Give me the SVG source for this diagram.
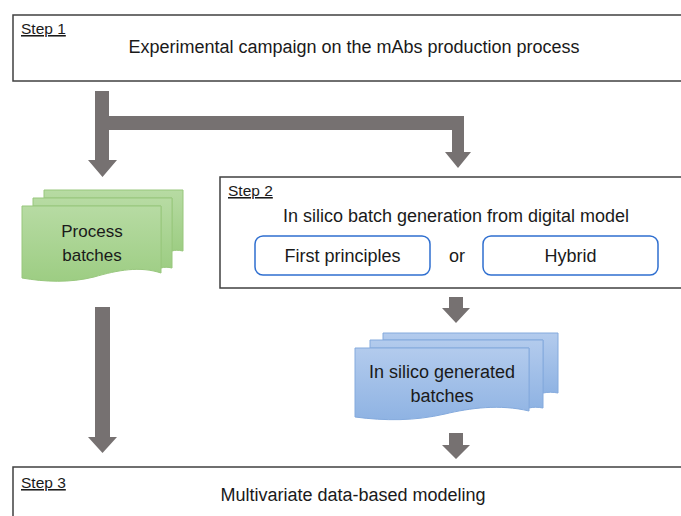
<svg xmlns="http://www.w3.org/2000/svg" width="681" height="516" viewBox="0 0 681 516">
<defs>
<linearGradient id="gGreen" x1="0" y1="0" x2="0" y2="1">
<stop offset="0" stop-color="#b7dba3"/>
<stop offset="1" stop-color="#9dcd83"/>
</linearGradient>
<linearGradient id="gBlue" x1="0" y1="0" x2="0" y2="1">
<stop offset="0" stop-color="#b3cbed"/>
<stop offset="1" stop-color="#8fb3e3"/>
</linearGradient>
<style>
.box{fill:#fff;stroke:#404040;stroke-width:1.5}
.opt{fill:#fff;stroke:#2f6fd0;stroke-width:1.5}
.arrow{fill:#767171}
.t{font-family:"Liberation Sans",Arial,sans-serif;fill:#1a1a1a}
.main{font-size:18px;text-anchor:middle}
.step{font-size:15.5px;text-decoration:underline}
.green{fill:url(#gGreen);stroke:#98c77d;stroke-width:1}
.blue{fill:url(#gBlue);stroke:#84aadd;stroke-width:1}
</style>
</defs>

<g id="step1">
<rect class="box" x="13" y="15" width="690" height="66"/>
<text class="t step" x="21" y="34">Step 1</text>
<text class="t main" x="354" y="53">Experimental campaign on the mAbs production process</text>
</g>

<g id="step2">
<rect class="box" x="220" y="177" width="480" height="111"/>
<text class="t step" x="228" y="196">Step 2</text>
<text class="t main" x="456" y="222">In silico batch generation from digital model</text>
<g id="first-principles">
<rect class="opt" x="255" y="236" width="175" height="39" rx="8"/>
<text class="t main" x="342.5" y="262">First principles</text>
</g>
<text class="t main" x="457" y="262">or</text>
<g id="hybrid">
<rect class="opt" x="483" y="236" width="175" height="39" rx="8"/>
<text class="t main" x="570.5" y="262">Hybrid</text>
</g>
</g>

<g id="process-batches">
<path class="green" d="M44,190 H183 V251 C178,250 175,250 172,251 V198 H44 Z"/>
<path class="green" d="M33,198 H172 V268 C168,267 164,267 161,268 V206 H33 Z"/>
<path class="green" d="M22,206 H161 V273 C140,266 118,270 94,277 C70,283 45,282 22,278 Z"/>
<text class="t main" x="92" y="237" style="font-size:17px">Process</text>
<text class="t main" x="92" y="261" style="font-size:17px">batches</text>
</g>

<g id="insilico-batches">
<path class="blue" d="M383,333 H558 V393 C553,392 548,392 543,393 V340 H383 Z"/>
<path class="blue" d="M370,340 H543 V408 C538,407 533,407 529,408 V348 H370 Z"/>
<path class="blue" d="M355,348 H529 V411 C500,404 470,408 445,414 C415,421 385,421 355,417 Z"/>
<text class="t main" x="442" y="378">In silico generated</text>
<text class="t main" x="442" y="402">batches</text>
</g>

<g id="step3">
<rect class="box" x="13" y="467" width="690" height="70"/>
<text class="t step" x="21" y="488">Step 3</text>
<text class="t main" x="353" y="501">Multivariate data-based modeling</text>
</g>

<g id="connectors">
<path class="arrow" d="M95,91 H109 V116 H464 V152 H471 L458,168 L445,152 H452 V130 H109 V160 H117 L102.5,177 L88,160 H95 Z"/>
<path class="arrow" d="M449,297 H463 V308 H470 L456,323 L442,308 H449 Z"/>
<path class="arrow" d="M95,307 H110 V437 H117 L102.5,453 L88,437 H95 Z"/>
<path class="arrow" d="M449,433 H463 V445 H470 L456,459 L442,445 H449 Z"/>
</g>
</svg>
